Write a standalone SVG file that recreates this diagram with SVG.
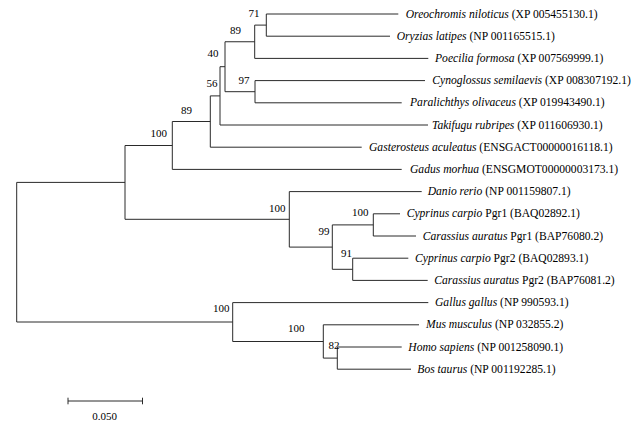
<svg xmlns="http://www.w3.org/2000/svg" width="638" height="425" viewBox="0 0 638 425">
<style>
.br{fill:none;stroke:#2a2a2a;stroke-width:1}
text{font-family:"Liberation Serif","Times New Roman",serif;font-size:11.6px;fill:#000}
.sp{font-style:italic}
.bs{text-anchor:end;font-size:11px}
.sc{text-anchor:middle;font-size:11px}
</style>
<rect width="638" height="425" fill="#fff"/>
<g id="connectors" class="br">
<path d="M16.7,182.4V322"/>
<path d="M16.7,182.4H125M125,145.5V219.3"/>
<path d="M125,145.5H172.3M172.3,121.5V169.4"/>
<path d="M172.3,121.5H210.3M210.3,95.9V147.2"/>
<path d="M210.3,95.9H220M220,66.7V125"/>
<path d="M220,66.7H225M225,41.75V91.7"/>
<path d="M225,41.75H254.7M254.7,25.1V58.4"/>
<path d="M254.7,25.1H266.3M266.3,14V36.2"/>
<path d="M225,91.7H255M255,80.6V102.8"/>
<path d="M125,219.3H289.3M289.3,191.6V247.1"/>
<path d="M289.3,247.1H332.3M332.3,224.9V269.3"/>
<path d="M332.3,224.9H373.3M373.3,213.8V236"/>
<path d="M332.3,269.3H352.7M352.7,258.2V280.4"/>
<path d="M16.7,322H232.7M232.7,302.6V341.5"/>
<path d="M232.7,341.5H323.3M323.3,324.8V358.1"/>
<path d="M323.3,358.1H337.3M337.3,347V369.2"/>
<path d="M266.3,14H398.3"/>
<path d="M266.3,36.2H390"/>
<path d="M254.7,58.4H428.3"/>
<path d="M255,80.6H425"/>
<path d="M255,102.8H401.7"/>
<path d="M220,125H428"/>
<path d="M210.3,147.2H361.7"/>
<path d="M172.3,169.4H401.7"/>
<path d="M289.3,191.6H421.7"/>
<path d="M373.3,213.8H400"/>
<path d="M373.3,236H416"/>
<path d="M352.7,258.2H408.3"/>
<path d="M352.7,280.4H427.7"/>
<path d="M232.7,302.6H428.3"/>
<path d="M323.3,324.8H419"/>
<path d="M337.3,347H401.7"/>
<path d="M337.3,369.2H411"/>
</g>
<g id="n71"><text class="bs" x="259.5" y="17">71</text></g>
<g id="n89a"><text class="bs" x="241" y="34">89</text></g>
<g id="n40"><text class="bs" x="218.5" y="57">40</text></g>
<g id="n97"><text class="bs" x="249.5" y="84">97</text></g>
<g id="n56"><text class="bs" x="217.5" y="87">56</text></g>
<g id="n89b"><text class="bs" x="192" y="114">89</text></g>
<g id="n100a"><text class="bs" x="167" y="136.5">100</text></g>
<g id="n100b"><text class="bs" x="285.5" y="211.5">100</text></g>
<g id="n100pgr1"><text class="bs" x="368.5" y="215.5">100</text></g>
<g id="n99"><text class="bs" x="329.5" y="235">99</text></g>
<g id="n91"><text class="bs" x="352" y="257">91</text></g>
<g id="n100d"><text class="bs" x="229.5" y="311.5">100</text></g>
<g id="n100c"><text class="bs" x="304.5" y="331.5">100</text></g>
<g id="n82"><text class="bs" x="339.5" y="348.5">82</text></g>
<g id="leaf-oreochromis"><text x="405.7" y="17.5"><tspan class="sp">Oreochromis niloticus</tspan> (XP 005455130.1)</text></g>
<g id="leaf-oryzias"><text x="396.7" y="39.7"><tspan class="sp">Oryzias latipes</tspan> (NP 001165515.1)</text></g>
<g id="leaf-poecilia"><text x="435" y="61.9"><tspan class="sp">Poecilia formosa</tspan> (XP 007569999.1)</text></g>
<g id="leaf-cynoglossus"><text x="432.3" y="84.1"><tspan class="sp">Cynoglossus semilaevis</tspan> (XP 008307192.1)</text></g>
<g id="leaf-paralichthys"><text x="410" y="106.3"><tspan class="sp">Paralichthys olivaceus</tspan> (XP 019943490.1)</text></g>
<g id="leaf-takifugu"><text x="432" y="128.5"><tspan class="sp">Takifugu rubripes</tspan> (XP 011606930.1)</text></g>
<g id="leaf-gasterosteus"><text x="369" y="150.7"><tspan class="sp">Gasterosteus aculeatus</tspan> (ENSGACT00000016118.1)</text></g>
<g id="leaf-gadus"><text x="410" y="172.9"><tspan class="sp">Gadus morhua</tspan> (ENSGMOT00000003173.1)</text></g>
<g id="leaf-danio"><text x="427.7" y="195.1"><tspan class="sp">Danio rerio</tspan> (NP 001159807.1)</text></g>
<g id="leaf-cyprinus-pgr1"><text x="406.7" y="217.3"><tspan class="sp">Cyprinus carpio</tspan> Pgr1 (BAQ02892.1)</text></g>
<g id="leaf-carassius-pgr1"><text x="422.7" y="239.5"><tspan class="sp">Carassius auratus</tspan> Pgr1 (BAP76080.2)</text></g>
<g id="leaf-cyprinus-pgr2"><text x="415" y="261.7"><tspan class="sp">Cyprinus carpio</tspan> Pgr2 (BAQ02893.1)</text></g>
<g id="leaf-carassius-pgr2"><text x="434.3" y="283.9"><tspan class="sp">Carassius auratus</tspan> Pgr2 (BAP76081.2)</text></g>
<g id="leaf-gallus"><text x="435" y="306.1"><tspan class="sp">Gallus gallus</tspan> (NP 990593.1)</text></g>
<g id="leaf-mus"><text x="426" y="328.3"><tspan class="sp">Mus musculus</tspan> (NP 032855.2)</text></g>
<g id="leaf-homo"><text x="408.3" y="350.5"><tspan class="sp">Homo sapiens</tspan> (NP 001258090.1)</text></g>
<g id="leaf-bos"><text x="417.3" y="372.7"><tspan class="sp">Bos taurus</tspan> (NP 001192285.1)</text></g>
<g id="scale-bar">
<path class="br" d="M68,401H142.5M68,397.7V404.3M142.5,397.7V404.3"/>
<text class="sc" x="104.7" y="420">0.050</text>
</g>
</svg>
